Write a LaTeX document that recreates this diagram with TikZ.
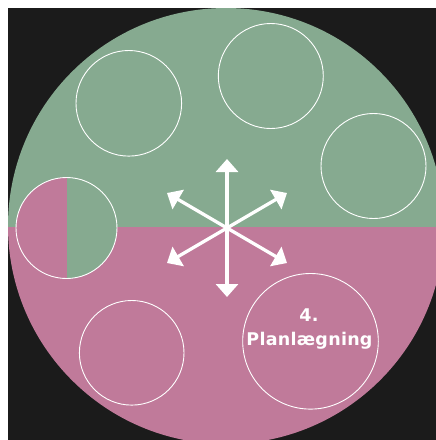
\documentclass[tikz,border=0pt]{standalone}
\usepackage{fontspec}
\setmainfont{DejaVu Sans}
\usetikzlibrary{arrows.meta}
\definecolor{bg}{HTML}{1B1B1B}
\definecolor{grn}{HTML}{86AA90}
\definecolor{pnk}{HTML}{C07A9A}
\begin{document}
\begin{tikzpicture}[x=1pt,y=-1pt,
  ring/.style={circle,draw=white,line width=0.9pt,inner sep=0pt},
  arr/.style={white,line width=3.3pt,{Triangle[width=22pt,length=13pt]}-{Triangle[width=22pt,length=13pt]}},
  txt/.style={text=white,font=\fontsize{17.5}{20}\selectfont\bfseries\addfontfeature{LetterSpace=1.5},inner sep=0pt}]
\useasboundingbox (0,0) rectangle (436,440);
\fill[white] (0,0) rectangle (436,440);
\fill[bg] (8,8) rectangle (436,440);
\begin{scope}
  \clip (8,8) rectangle (436,440);
  \clip (226,226) circle[radius=218];
  \fill[grn] (0,0) rectangle (436,226.7);
  \fill[pnk] (0,226.7) rectangle (436,440);
\end{scope}
% split circle
\begin{scope}
  \clip (66.5,228) circle[radius=50.5];
  \fill[pnk] (10,170) rectangle (66.7,290);
  \fill[grn] (66.7,170) rectangle (120,290);
\end{scope}
\node[ring,minimum size=101pt] (c4) at (66.5,228) {};
\node[ring,minimum size=105.6pt] (c1) at (128.8,103.3) {};
\node[ring,minimum size=105pt] (c2) at (270.8,76) {};
\node[ring,minimum size=105pt] (c3) at (373.5,166) {};
\node[ring,minimum size=104.6pt] (c5) at (131.7,352.8) {};
\node[ring,minimum size=135.6pt] (c6) at (310.5,341.3) {};
% arrows
\coordinate (o) at (227,228);
\coordinate (tn) at (227,159);
\coordinate (ts) at (227,297);
\coordinate (tul) at (167,193);
\coordinate (tur) at (287,193);
\coordinate (tll) at (167,263);
\coordinate (tlr) at (287,263);
\draw[arr] (tn) -- (o) -- (ts);
\draw[arr] (tul) -- (o) -- (tlr);
\draw[arr] (tur) -- (o) -- (tll);
% text
\node[txt,anchor=base] (num) at (309,321) {4.};
\node[txt,anchor=base] (lbl) at (309.5,345) {Planlægning};
\end{tikzpicture}
\end{document}
